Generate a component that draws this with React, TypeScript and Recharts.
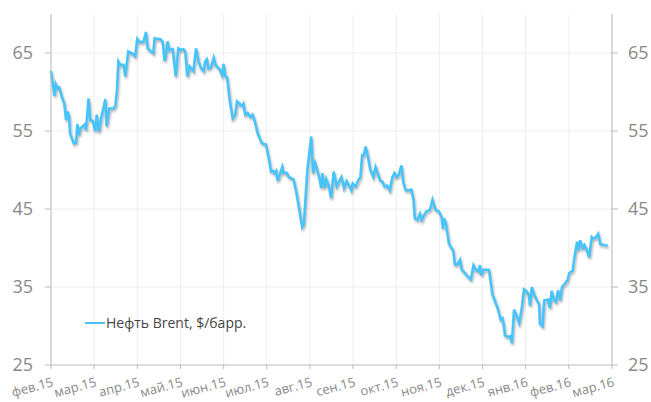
import { LineChart, Line, XAxis, YAxis, CartesianGrid } from "recharts"

// x = position in months from фев.15 (0) to мар.16 (13)
const monthLabels = [
  "фев.15", "мар.15", "апр.15", "май.15", "июн.15", "июл.15", "авг.15",
  "сен.15", "окт.15", "ноя.15", "дек.15", "янв.16", "фев.16", "мар.16",
]

const priceX = [
  0.0, 0.08, 0.11, 0.15, 0.19, 0.25, 0.31, 0.35, 0.39, 0.42, 0.44, 0.53, 0.58, 0.61, 0.65, 0.67, 0.74, 0.79, 0.81, 0.87,
  0.91, 0.97, 1.02, 1.06, 1.11, 1.16, 1.26, 1.29, 1.35, 1.45, 1.49, 1.53, 1.56, 1.6, 1.68, 1.72, 1.79, 1.87, 1.95, 2.0,
  2.05, 2.14, 2.2, 2.24, 2.3, 2.37, 2.4, 2.48, 2.53, 2.59, 2.63, 2.66, 2.7, 2.74, 2.79, 2.82, 2.89, 2.95, 3.01, 3.07,
  3.11, 3.16, 3.21, 3.27, 3.3, 3.36, 3.42, 3.48, 3.54, 3.57, 3.61, 3.65, 3.71, 3.77, 3.81, 3.86, 3.91, 3.96, 4.0, 4.04,
  4.08, 4.14, 4.21, 4.27, 4.31, 4.37, 4.43, 4.46, 4.5, 4.56, 4.62, 4.67, 4.71, 4.79, 4.89, 4.98, 5.04, 5.1, 5.15, 5.18,
  5.22, 5.25, 5.3, 5.36, 5.39, 5.47, 5.51, 5.59, 5.62, 5.69, 5.82, 5.86, 5.94, 6.03, 6.07, 6.12, 6.17, 6.23, 6.26, 6.29,
  6.34, 6.38, 6.44, 6.49, 6.55, 6.62, 6.67, 6.73, 6.79, 6.85, 6.9, 6.96, 6.99, 7.06, 7.12, 7.17, 7.21, 7.25, 7.29, 7.33,
  7.4, 7.47, 7.52, 7.57, 7.62, 7.68, 7.73, 7.79, 7.85, 7.91, 7.96, 8.01, 8.06, 8.12, 8.16, 8.22, 8.29, 8.35, 8.4, 8.43,
  8.49, 8.55, 8.59, 8.64, 8.7, 8.78, 8.84, 8.91, 8.99, 9.05, 9.08, 9.11, 9.15, 9.22, 9.28, 9.32, 9.36, 9.42, 9.48, 9.52,
  9.59, 9.65, 9.73, 9.79, 9.85, 9.9, 9.94, 9.97, 10.02, 10.15, 10.23, 10.28, 10.35, 10.42, 10.46, 10.49, 10.52, 10.59, 10.64, 10.68,
  10.73, 10.77, 10.85, 10.91, 10.96, 11.03, 11.07, 11.1, 11.14, 11.2, 11.26, 11.31, 11.33, 11.39, 11.43, 11.52, 11.56, 11.6, 11.65, 11.7,
  11.75, 11.8, 11.84, 11.89, 11.97, 12.01, 12.09, 12.12, 12.19, 12.22, 12.26, 12.32, 12.36, 12.42, 12.47, 12.53, 12.57, 12.63, 12.68, 12.73,
  12.82, 12.9,
]

const brent = [
  62.7, 59.5, 61.0, 60.5, 60.6, 59.4, 58.5, 56.4, 57.5, 56.8, 54.7, 53.4, 53.5, 55.9, 54.5, 55.3, 55.6, 55.9, 55.1, 59.2,
  56.4, 56.3, 55.0, 57.1, 54.9, 56.6, 59.1, 55.6, 57.9, 57.9, 58.2, 60.3, 63.9, 63.5, 63.5, 62.0, 65.2, 65.0, 64.6, 66.8,
  66.4, 66.4, 67.7, 65.6, 65.3, 65.0, 66.9, 66.8, 66.8, 66.4, 64.0, 64.7, 66.5, 65.4, 65.5, 65.5, 62.0, 65.6, 65.4, 65.5,
  65.2, 62.0, 63.3, 62.9, 62.7, 65.6, 63.9, 63.0, 62.7, 63.9, 64.2, 63.0, 63.2, 64.4, 63.5, 63.2, 62.9, 62.2, 63.6, 62.0,
  61.9, 59.0, 56.6, 57.1, 58.8, 58.5, 58.2, 58.5, 57.1, 57.3, 56.8, 57.1, 56.5, 54.7, 53.4, 53.3, 51.7, 49.8, 49.9, 49.6,
  49.9, 48.6, 49.4, 50.4, 49.6, 49.6, 49.1, 48.9, 48.8, 47.0, 42.7, 43.1, 50.0, 54.3, 49.6, 50.9, 50.0, 48.7, 47.7, 49.6,
  47.7, 48.8, 47.9, 46.4, 49.8, 47.9, 48.5, 49.1, 47.7, 48.6, 48.1, 47.4, 48.3, 47.9, 48.7, 49.1, 51.9, 51.9, 53.0, 52.1,
  50.0, 49.1, 50.4, 49.6, 48.7, 48.5, 47.9, 48.0, 47.4, 49.1, 49.6, 49.1, 49.4, 50.6, 48.5, 47.4, 47.4, 47.5, 46.2, 43.8,
  43.6, 44.4, 43.6, 44.2, 44.7, 44.9, 46.2, 44.9, 44.7, 44.0, 42.5, 43.8, 43.2, 40.6, 40.0, 39.7, 37.9, 37.9, 38.5, 37.2,
  36.8, 36.4, 36.0, 37.8, 37.2, 37.0, 37.8, 36.5, 37.2, 37.2, 34.0, 33.3, 32.3, 30.8, 31.0, 30.1, 28.8, 28.6, 28.7, 27.8,
  32.1, 31.6, 30.4, 32.3, 34.7, 34.4, 34.0, 32.6, 35.0, 34.0, 33.3, 32.8, 30.3, 30.0, 33.3, 33.4, 32.3, 34.5, 33.4, 33.1,
  34.6, 33.3, 35.0, 35.3, 35.9, 36.8, 37.1, 38.5, 40.8, 39.7, 41.0, 40.0, 40.4, 39.7, 38.8, 41.4, 41.2, 41.4, 41.8, 40.5,
  40.4, 40.3,
]

const yTicks = [25, 35, 45, 55, 65]
const seriesName = "Нефть Brent, $/барр."

const data = priceX.map((x, i) => ({ x, brent: brent[i] }))
const monthTicks = monthLabels.map((_, i) => i)

const font = "'Open Sans', 'Noto Sans', sans-serif"
const lineColor = "#45c4fd"

function MonthTick(props: any) {
  const { x, y, payload } = props
  return (
    <g transform={`translate(${x + 3},${y + 15}) rotate(-15)`}>
      <text x={0} y={0} textAnchor="end" fill="#888" fontSize={13} fontFamily={font}>
        {monthLabels[payload.value]}
      </text>
    </g>
  )
}

function LeftTick(props: any) {
  const { x, y, payload } = props
  return (
    <text x={x} y={y} dy={6} textAnchor="end" fill="#888" fontSize={18} fontFamily={font}>
      {payload.value}
    </text>
  )
}

function RightTick(props: any) {
  const { x, y, payload } = props
  return (
    <text x={x} y={y} dy={6} textAnchor="start" fill="#888" fontSize={18} fontFamily={font}>
      {payload.value}
    </text>
  )
}

export default function App() {
  return (
    <div style={{ position: "absolute", left: 0, top: 0, width: 651, height: 402, background: "#fff" }}>
      <style>{`.brent-line path { filter: drop-shadow(1.5px 2px 1px rgba(0,0,0,0.3)); }`}</style>
      <LineChart width={651} height={402} data={data} margin={{ top: 14, right: 0, bottom: 0, left: 0 }}>
        <CartesianGrid stroke="#eeeeee" horizontalValues={[35, 45, 55, 65]} yAxisId="left" />
        <XAxis
          dataKey="x"
          type="number"
          domain={[0, 13]}
          ticks={monthTicks}
          interval={0}
          height={37}
          stroke="#bbb"
          tickSize={4}
          tick={<MonthTick />}
        />
        <YAxis
          yAxisId="left"
          domain={[25, 70]}
          ticks={yTicks}
          interval={0}
          width={51}
          stroke="#bbb"
          tickSize={6}
          tickMargin={12}
          tick={<LeftTick />}
        />
        <YAxis
          yAxisId="right"
          orientation="right"
          domain={[25, 70]}
          ticks={yTicks}
          interval={0}
          width={39}
          stroke="#bbb"
          tickSize={6}
          tickMargin={10}
          tick={<RightTick />}
        />
        {/* same series on the right axis, invisible, so the right scale gets drawn */}
        <Line
          yAxisId="right"
          type="linear"
          dataKey="brent"
          stroke="none"
          dot={false}
          activeDot={false}
          legendType="none"
          isAnimationActive={false}
        />
        <Line
          yAxisId="left"
          className="brent-line"
          type="linear"
          dataKey="brent"
          name={seriesName}
          stroke={lineColor}
          strokeWidth={2.5}
          dot={false}
          activeDot={false}
          isAnimationActive={false}
        />
      </LineChart>
      <div
        style={{
          position: "absolute",
          left: 85,
          top: 313,
          display: "flex",
          alignItems: "center",
          fontFamily: font,
          fontSize: 14,
          color: "#444",
          whiteSpace: "nowrap",
        }}
      >
        <span style={{ display: "inline-block", width: 20, height: 2, background: lineColor, marginRight: 1 }} />
        <span>{seriesName}</span>
      </div>
    </div>
  )
}
